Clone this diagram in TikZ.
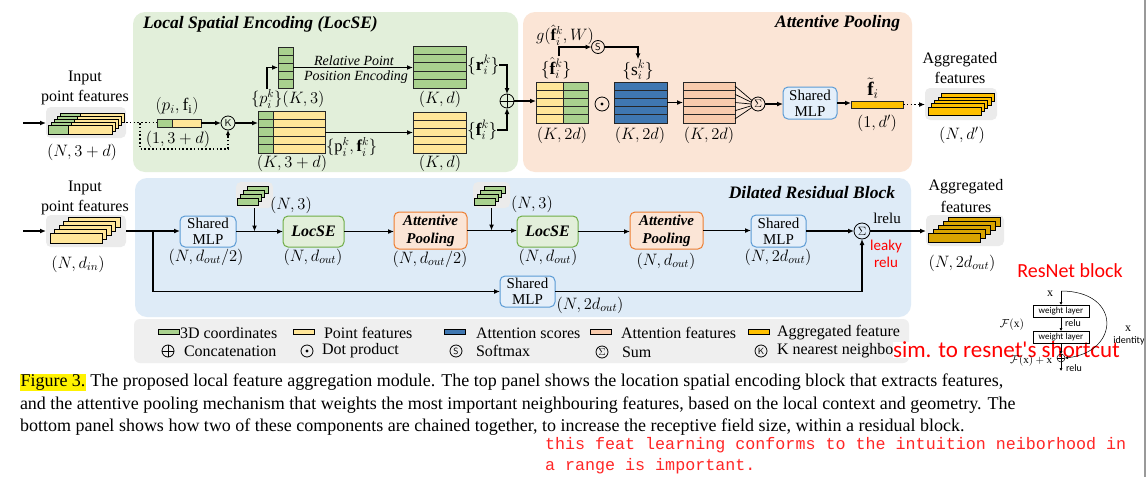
\RequirePackage{fix-cm}
\documentclass[tikz,border=0pt]{standalone}
\usepackage{fontspec}
\setmainfont{Liberation Serif}
\newfontfamily\capfont{Liberation Serif}
\newfontfamily\redsans{Carlito}
\newfontfamily\redmono{Liberation Mono}
\usetikzlibrary{arrows.meta,calc}
\definecolor{cgreen}{HTML}{A9D18E}
\definecolor{cyellow}{HTML}{FFE699}
\definecolor{cblue}{HTML}{3F77B1}
\definecolor{csalmon}{HTML}{F8CBAD}
\definecolor{corange}{HTML}{FFC000}
\definecolor{cdark}{HTML}{D9A400}
\definecolor{cpg}{HTML}{E2EFDA}
\definecolor{cpo}{HTML}{FBE5D6}
\definecolor{cpb}{HTML}{DEEBF7}
\definecolor{cmlp}{HTML}{E4EFFA}
\definecolor{cmlpb}{HTML}{5B9BD5}
\definecolor{clocb}{HTML}{70AD47}
\definecolor{capb}{HTML}{ED7D31}
\definecolor{cgraybg}{HTML}{EBEBEB}
\definecolor{clegbg}{HTML}{EFEFEF}
\definecolor{cred}{HTML}{FF0000}
\newcommand\fsz[1]{\fontsize{#1}{#1}\selectfont}
\newcommand\barstack[9]{%
  \foreach \i in {#6,...,0}{%
    \pgfmathsetmacro\bx{#1+\i*#7}\pgfmathsetmacro\by{#2-\i*#8}%
    \ifdim #3pt>0pt \draw[fill=cgreen,line width=0.7pt] (\bx,\by) rectangle ++(#3,#5);\fi
    \draw[fill=#9,line width=0.7pt] (\bx+#3,\by) rectangle ++(#4,#5);
  }}
\begin{document}
\begin{tikzpicture}[x=1pt,y=-1pt,
  every node/.style={inner sep=0,outer sep=0,font=\fsz{16.5}},
  panel/.style={anchor=north west,rounded corners=12pt,draw=none},
  mat/.style={anchor=north west,draw=black!85,line width=0.7pt},
  rows/.style={path picture={\foreach \i in {1,...,4}{\draw[line width=0.7pt]
     ($(path picture bounding box.north west)!\i/5!(path picture bounding box.south west)$) --
     ($(path picture bounding box.north east)!\i/5!(path picture bounding box.south east)$);}}},
  graybg/.style={anchor=north west,fill=cgraybg,rounded corners=5pt},
  box/.style={anchor=north west,rounded corners=5pt,line width=1pt,align=center},
  mlp/.style={box,draw=cmlpb,fill=cmlp,font=\fontsize{15}{16}\selectfont},
  locse/.style={box,draw=clocb,fill=cpg,font=\fsz{16}\bfseries\itshape},
  apbox/.style={box,draw=capb,fill=cpo,font=\fontsize{15}{18}\selectfont\bfseries\itshape},
  op/.style={circle,draw,line width=0.8pt,minimum size=14pt},
  oplus/.style={op,path picture={\draw[line width=0.8pt] (path picture bounding box.north)--(path picture bounding box.south)
      (path picture bounding box.west)--(path picture bounding box.east);}},
  odot/.style={op,path picture={\fill (path picture bounding box.center) circle (1.6pt);}},
  arr/.style={-{Latex[length=6pt,width=5pt]},line width=1.3pt},
  thinarr/.style={-{Latex[length=3pt,width=3pt]},line width=0.5pt},
  dotline/.style={line width=1.3pt,dash pattern=on 1.6pt off 2.2pt},
  ttl/.style={font=\fontsize{17.5}{18}\selectfont\bfseries\itshape},
  txt/.style={font=\fsz{16}},
  legt/.style={anchor=west,font=\fsz{16}},
  sw/.style={anchor=west,draw,line width=0.7pt,minimum width=21pt,minimum height=5.5pt},
  wlbox/.style={draw,line width=0.5pt,minimum width=56,minimum height=12,font=\redsans\fsz{9}},
]
\useasboundingbox (0,0) rectangle (1148,477);
\fill[white] (0,0) rectangle (1148,477);

% ---------- panels
\node[panel,fill=cpg,minimum width=385,minimum height=160] (locpanel) at (133,12) {};
\node[panel,fill=cpo,minimum width=389,minimum height=160] (appanel) at (523,12) {};
\node[panel,fill=cpb,minimum width=776,minimum height=139] (drbpanel) at (135,178) {};
\node[ttl,anchor=west] (t1) at (143,24) {Local Spatial Encoding (LocSE)};
\node[ttl,anchor=east] (t2) at (900,23) {Attentive Pooling};
\node[ttl,anchor=east] (t3) at (895,193) {Dilated Residual Block};

% ---------- top input
\node[txt] (inA1) at (85,78) {Input};
\node[txt] (inA2) at (85,98) {point features};
\node[graybg,minimum width=80,minimum height=31] (inA) at (46,107) {};
\barstack{48}{125}{20}{44}{9}{4}{3.2}{3}{cyellow}
\node (inAd) at (82,152) {$(N,3+d)$};
\coordinate (startA) at (23,123);
\draw[arr] (startA) -- (startA -| inA.west);

\node[mat,fill=cgreen,minimum width=15,minimum height=8] (pg) at (157,119) {};
\node[mat,fill=cyellow,minimum width=29,minimum height=8] (pf) at (172,119) {};
\node[font=\fsz{17.5}] (pflab) at (177,106) {$(p_i,\mathrm{f}_\mathrm{i})$};
\node (pfd) at (178,139) {$(1,3+d)$};
\draw[dotline] (inA.east) -- (inA.east -| pg.west);
\node[op] (knn) at (228,123) {\fsz{10}\sffamily K};
\coordinate (dl) at (140,123);
\draw[dotline] (dl) -- ++(0,26) -| ($(knn.south)+(0,5)$);
\draw[-{Latex[length=5pt,width=4.5pt]},line width=1.3pt] ($(knn.south)+(0,6)$) -- (knn.south);
\draw[arr] (pf.east) -- (knn.west);

\node[mat,fill=cgreen,rows,minimum width=15,minimum height=42] (bmg) at (258,111) {};
\node[mat,fill=cyellow,rows,minimum width=52,minimum height=42] (bmy) at (273,111) {};
\draw[arr] (knn.east) -- (knn.east -| bmg.west);
\node (bmd) at (292,163) {$(K,3+d)$};
\node[anchor=west] (pfk) at (326,147) {$\{\mathrm{p}_i^k,\mathbf{f}_i^k\}$};

\node[mat,fill=cgreen,rows,minimum width=15,minimum height=41] (pk) at (278,47) {};
\node[anchor=west] (pkl) at (251,99) {$\{p_i^k\}(K,3)$};
\coordinate (pkup) at (267,89);
\draw[arr] (pkup) |- (pk.west);

\node[mat,fill=cgreen,rows,minimum width=53,minimum height=42] (rm) at (413,46) {};
\node[mat,fill=cyellow,rows,minimum width=53,minimum height=41] (fm) at (413,112) {};
\draw[arr] (pk.east) -- (pk.east -| rm.west);
\draw[arr] (fm.west -| bmy.east) -- (fm.west);
\node[font=\fsz{14}\itshape] (rpp1) at (354,61) {Relative Point};
\node[font=\fsz{14}\itshape] (rpp2) at (356,77) {Position Encoding};
\node[anchor=west,font=\fsz{17.5}] (rl) at (467,65) {$\{\mathbf{r}_i^k\}$};
\node (rmd) at (440,99) {$(K,d)$};
\node[anchor=west,font=\fsz{17.5}] (fl) at (467,130) {$\{\mathbf{f}_i^k\}$};
\node (fmd) at (440,163) {$(K,d)$};
\node[oplus] (cat) at (507,101) {};
\draw[arr] (rl.east) -| (cat.north);
\draw[arr] (fl.east) -| (cat.south);

% ---------- attentive pooling
\node[mat,fill=cyellow,rows,minimum width=27,minimum height=41] (fhy) at (536,82) {};
\node[mat,fill=cgreen,rows,minimum width=25,minimum height=41] (fhg) at (563,82) {};
\draw[arr] (cat.east) -- (cat.east -| fhy.west);
\node[font=\fsz{17.5}] (fhl) at (556,68) {$\{\hat{\mathbf{f}}_i^k\}$};
\node (gl) at (565,35) {$g(\hat{\mathbf{f}}_i^k,W)$};
\node[op,minimum size=13pt] (sm) at (598,47) {\fsz{10}\sffamily S};
\coordinate (gst) at (559,56);
\draw[arr] (gst) |- (sm.west);
\node[font=\fsz{17.5}] (sl) at (638,70) {$\{\mathrm{s}_i^k\}$};
\draw[arr] (sm.east) -| ($(sl.north)+(0,-1)$);
\node (fhd) at (562,135) {$(K,2d)$};
\node[odot] (dot) at (602,104) {};
\node[mat,fill=cblue,rows,minimum width=53,minimum height=41] (bl) at (614,82) {};
\node (bld) at (640,135) {$(K,2d)$};
\node[mat,fill=csalmon,rows,minimum width=52,minimum height=41] (sa) at (683,82) {};
\node (sad) at (709,135) {$(K,2d)$};
\draw[arr] (bl.east) -- (bl.east -| sa.west);
\node[op] (sum) at (758,104) {\fsz{11}$\Sigma$};
\foreach \k/\a in {1/150,2/165,3/180,4/195,5/210}{
  \draw[line width=0.7pt] ($(sa.north east)!{(\k-0.5)/5}!(sa.south east)$) -- (sum.\a);}
\node[mlp,minimum width=54,minimum height=32] (mlpA) at (783,87) {Shared\\MLP};
\draw[arr] (sum.east) -- (sum.east -| mlpA.west);
\node[mat,fill=corange,minimum width=52,minimum height=7] (ft) at (851,101) {};
\draw[arr] (mlpA.east) -- (mlpA.east -| ft.west);
\node[font=\fsz{19}] (ftl) at (873,88) {$\tilde{\mathbf{f}}_i$};
\node (ftd) at (877,123) {$(1,d')$};

\node[txt] (agA1) at (960,60) {Aggregated};
\node[txt] (agA2) at (960,78) {features};
\node[graybg,minimum width=72,minimum height=32] (aggA) at (925,88) {};
\barstack{928}{107}{0}{53}{8}{4}{3.3}{3.3}{corange}
\node (aggAd) at (962,135) {$(N,d')$};
\draw[dotline] (ft.east) -- ($(ft.east -| aggA.west)+(-6,0)$);
\draw[-{Latex[length=6pt,width=5pt]},line width=1.3pt] ($(ft.east -| aggA.west)+(-7,0)$) -- (ft.east -| aggA.west);

% ---------- dilated residual block
\node[txt] (inB1) at (85,188) {Input};
\node[txt] (inB2) at (85,208) {point features};
\node[graybg,minimum width=80,minimum height=32] (inB) at (46,215) {};
\barstack{50}{233}{0}{52}{10}{4}{4.6}{3.8}{cyellow}
\node (inBd) at (78,264) {$(N,d_{in})$};
\coordinate (startB) at (23,231);
\draw[arr] (startB) -- (startB -| inB.west);

\node[mlp,minimum width=56,minimum height=31] (mlp1) at (180,216) {Shared\\MLP};
\node (mlp1d) at (206,257) {$(N,d_{out}/2)$};
\draw[arr] (inB.east) -- (inB.east -| mlp1.west);
\coordinate (br) at (153,231);

\node[graybg,minimum width=37,minimum height=26] (g1) at (236,182) {};
\barstack{237}{198}{0}{21}{7}{3}{3.3}{4}{cgreen}
\node (g1d) at (291,205) {$(N,3)$};
\node[locse,minimum width=61,minimum height=31] (loc1) at (283,216) {LocSE};
\node (loc1d) at (313,257) {$(N,d_{out})$};
\draw[arr] (mlp1.east) -- (mlp1.east -| loc1.west);
\draw[arr] (g1.south) -- (g1.south |- mlp1.east);

\node[apbox,minimum width=73,minimum height=37] (ap1) at (394,212) {Attentive\\Pooling};
\node (ap1d) at (430,259) {$(N,d_{out}/2)$};
\draw[arr] (loc1.east) -- (loc1.east -| ap1.west);

\node[graybg,minimum width=37,minimum height=26] (g2) at (473,182) {};
\barstack{474}{198}{0}{21}{7}{3}{3.3}{4}{cgreen}
\node (g2d) at (532,204) {$(N,3)$};
\node[locse,minimum width=61,minimum height=31] (loc2) at (517,216) {LocSE};
\node (loc2d) at (548,257) {$(N,d_{out})$};
\draw[arr] (ap1.east) -- (ap1.east -| loc2.west);
\draw[arr] (g2.south) -- (g2.south |- ap1.east);

\node[apbox,minimum width=73,minimum height=37] (ap2) at (630,212) {Attentive\\Pooling};
\node (ap2d) at (666,261) {$(N,d_{out})$};
\draw[arr] (loc2.east) -- (loc2.east -| ap2.west);

\node[mlp,minimum width=55,minimum height=32] (mlp3) at (751,215) {Shared\\MLP};
\node (mlp3d) at (778,257) {$(N,2d_{out})$};
\draw[arr] (ap2.east) -- (ap2.east -| mlp3.west);

\node[op,minimum size=16pt] (sumB) at (862,231) {\fsz{12}$\Sigma$};
\draw[arr] (mlp3.east) -- (mlp3.east -| sumB.west);

\node[mlp,minimum width=55,minimum height=31] (mlpB) at (500,276) {Shared\\MLP};
\node (mlpBd) at (590,305) {$(N,2d_{out})$};
\draw[arr] (br) |- (mlpB.west);
\draw[arr] (mlpB.east) -| (sumB.south);

\node[font=\fsz{15}] (lrelu) at (887,218) {lrelu};
\node[font=\redsans\fsz{15},text=cred] (lk1) at (886,246) {leaky};
\node[font=\redsans\fsz{15},text=cred] (lk2) at (886,262) {relu};

\node[txt] (agB1) at (966,187) {Aggregated};
\node[txt] (agB2) at (966,207) {features};
\node[graybg,minimum width=78,minimum height=31] (aggB) at (926,215) {};
\barstack{928}{233}{0}{52}{9}{4}{5}{4}{cdark}
\node (aggBd) at (962,263) {$(N,2d_{out})$};
\draw[arr] (sumB.east) -- (sumB.east -| aggB.west);

% ---------- legend
\node[anchor=north west,fill=clegbg,rounded corners=6pt,minimum width=775,minimum height=44] (leg) at (134,319) {};
\node[sw,fill=cgreen] (s1) at (158,332) {};  \node[legt] (l1) at (180,333) {3D coordinates};
\node[sw,fill=cyellow] (s2) at (293,332) {}; \node[legt] (l2) at (324,333) {Point features};
\node[sw,fill=cblue] (s3) at (444,332) {};   \node[legt] (l3) at (476,333) {Attention scores};
\node[sw,fill=csalmon] (s4) at (590,332) {}; \node[legt] (l4) at (621,333) {Attention features};
\node[sw,fill=corange] (s5) at (748,332) {}; \node[legt] (l5) at (777,333) {Aggregated feature};
\node[oplus,minimum size=12pt] (o1) at (168,351) {}; \node[legt] (m1) at (184,351) {Concatenation};
\node[odot,minimum size=12pt] (o2) at (307,351) {};  \node[legt] (m2) at (322,351) {Dot product};
\node[op,minimum size=12pt] (o3) at (456,351) {\fsz{9}\sffamily S}; \node[legt] (m3) at (476,351) {Softmax};
\node[op,minimum size=12pt] (o4) at (602,352) {\fsz{10}$\Sigma$}; \node[legt] (m4) at (622,352) {Sum};
\node[op,minimum size=12pt] (o5) at (761,351) {\fsz{9}\sffamily K}; \node[legt] (m5) at (777,351) {K nearest neighbor};

% ---------- red note over the legend, then the resnet sketch
\node[anchor=west,fill=white,font=\redsans\fsz{23},text=cred] (sim) at (893,350) {sim. to resnet's shortcut};
\node[font=\redsans\fsz{20},text=cred] (rnb) at (1070,271) {ResNet block};
\node[font=\fsz{12}] (rx) at (1050,294) {x};
\coordinate (rtop) at (1061,291);
\node[wlbox] (wl1) at (1061,311) {weight layer};
\node[wlbox] (wl2) at (1061,337) {weight layer};
\node[circle,draw,line width=0.5pt,minimum size=8pt,path picture={\draw[line width=0.5pt] (path picture bounding box.north)--(path picture bounding box.south) (path picture bounding box.west)--(path picture bounding box.east);}] (rsum) at (1061,358) {};
\draw[thinarr] (rtop) -- (wl1.north);
\draw[thinarr] (wl1.south) -- (wl2.north);
\draw[thinarr] (wl2.south) -- (rsum.north);
\draw[thinarr] (rsum.south) -- ++(0,9);
\draw[thinarr] (rtop) .. controls (1122,291) and (1120,352) .. (rsum.east);
\node[font=\redsans\fsz{10}] (rr1) at (1073,323) {relu};
\node[font=\redsans\fsz{10}] (rr2) at (1074,368) {relu};
\node[font=\fsz{11.5}] (rfx) at (1012,325) {$\mathcal{F}(\mathrm{x})$};
\node[font=\fsz{11},anchor=east] (rfxx) at (1052,361) {$\mathcal{F}(\mathrm{x})+\mathrm{x}$};
\node[font=\fsz{12}] (rx2) at (1128,329) {x};
\node[font=\redsans\fsz{10}] (rid) at (1129,341) {identity};
\draw[gray!80,line width=2pt] (1145,0) -- (1145,477);

% ---------- caption
\node[anchor=west,font=\capfont\fsz{18}] (cap1) at (20,382) {{\setlength\fboxsep{0.5pt}\colorbox{yellow}{Figure 3.}} The proposed local feature aggregation module. The top panel shows the location spatial encoding block that extracts features,};
\node[anchor=west,font=\capfont\fsz{18}] (cap2) at (20,405) {and the attentive pooling mechanism that weights the most important neighbouring features, based on the local context and geometry. The};
\node[anchor=west,font=\capfont\fsz{18}] (cap3) at (20,427) {bottom panel shows how two of these components are chained together, to increase the receptive field size, within a residual block.};
\node[anchor=west,font=\redmono\fsz{16.7},text=cred!85] (note1) at (545,445) {this feat learning conforms to the intuition neiborhood in};
\node[anchor=west,font=\redmono\fsz{16.7},text=cred!85] (note2) at (545,466) {a range is important.};
\end{tikzpicture}
\end{document}
